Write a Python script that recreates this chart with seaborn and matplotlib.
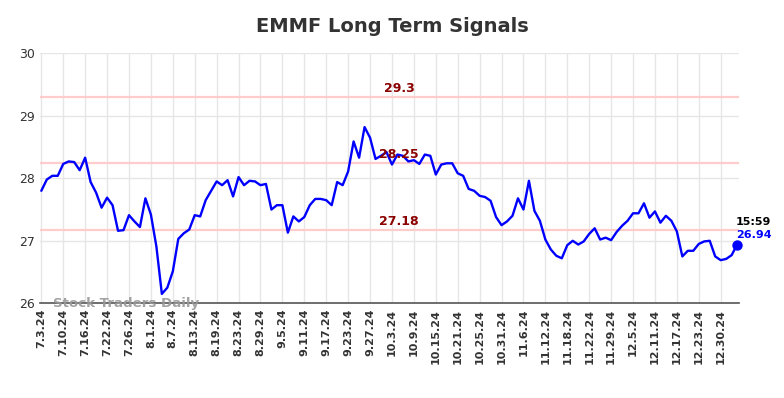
import numpy as np
import pandas as pd
import seaborn as sns
import matplotlib.pyplot as plt

# Daily close values (7.3.24 -> 1.3.25, trading days)
values = [
    27.80, 27.98, 28.04, 28.04, 28.23, 28.27, 28.26, 28.13, 28.33, 27.94,
    27.77, 27.53, 27.69, 27.57, 27.16, 27.17, 27.41, 27.31, 27.22, 27.68,
    27.42, 26.91, 26.15, 26.25, 26.51, 27.03, 27.12, 27.18, 27.41, 27.39,
    27.65, 27.80, 27.95, 27.89, 27.97, 27.71, 28.02, 27.89, 27.96, 27.95,
    27.89, 27.91, 27.50, 27.57, 27.57, 27.13, 27.39, 27.31, 27.38, 27.57,
    27.67, 27.67, 27.65, 27.57, 27.94, 27.89, 28.11, 28.59, 28.33, 28.82,
    28.65, 28.31, 28.36, 28.42, 28.22, 28.38, 28.36, 28.27, 28.29, 28.23,
    28.38, 28.36, 28.06, 28.22, 28.24, 28.24, 28.08, 28.04, 27.83, 27.80,
    27.72, 27.70, 27.64, 27.38, 27.25, 27.31, 27.40, 27.68, 27.50, 27.96,
    27.48, 27.32, 27.02, 26.86, 26.76, 26.72, 26.93, 27.00, 26.94, 26.99,
    27.11, 27.20, 27.02, 27.05, 27.01, 27.14, 27.24, 27.32, 27.44, 27.44,
    27.60, 27.37, 27.47, 27.29, 27.40, 27.32, 27.15, 26.75, 26.84, 26.84,
    26.95, 26.99, 27.00, 26.75, 26.69, 26.71, 26.77, 26.94,
]

# signal levels
levels = [29.3, 28.25, 27.18]
level_labels = ['29.3', '28.25', '27.18']

last_time = '15:59'
last_label = '26.94'

holidays = ['2024-07-04', '2024-09-02', '2024-11-28', '2024-12-25', '2025-01-01']
dates = pd.bdate_range('2024-07-03', periods=len(values), freq='C', holidays=holidays)
date_labels = [f'{d.month}.{d.day}.{d.strftime("%y")}' for d in dates]

df = pd.DataFrame({'idx': np.arange(len(values)), 'close': values})

sns.set_style('whitegrid')
fig = plt.figure(figsize=(7.84, 3.98), dpi=100)
ax = fig.add_axes([0.0504, 0.238, 0.8926, 0.628])

for lv in levels:
    ax.axhline(lv, color='#ffcccc', lw=1.6, zorder=1)

sns.lineplot(data=df, x='idx', y='close', color='#0000ff', lw=1.7, ax=ax, zorder=3)
ax.scatter([df['idx'].iloc[-1]], [df['close'].iloc[-1]], s=42, color='#0000ff',
           zorder=4, clip_on=False)

for lv, lab in zip(levels, level_labels):
    ax.annotate(lab, xy=(65.3, lv), xytext=(0, 6), textcoords='offset points',
                ha='center', va='center', fontsize=9, fontweight='bold', color='#8b0000', zorder=5)

ax.annotate(last_time, xy=(df['idx'].iloc[-1], df['close'].iloc[-1]), xytext=(-1, 16),
            textcoords='offset points', ha='left', va='center', fontsize=8,
            fontweight='bold', color='black', annotation_clip=False)
ax.annotate(last_label, xy=(df['idx'].iloc[-1], df['close'].iloc[-1]), xytext=(-1, 7),
            textcoords='offset points', ha='left', va='center', fontsize=8,
            fontweight='bold', color='#0000ff', annotation_clip=False)

ax.text(0.019, 0.0, 'Stock Traders Daily', transform=ax.transAxes, fontsize=9.6,
        fontweight='bold', color='#999999', alpha=0.9, va='center', ha='left', zorder=6)

ticks = list(range(0, len(values), 4))
ax.set_xticks(ticks)
ax.set_xticklabels([date_labels[t] for t in ticks], rotation=90, fontsize=8,
                   fontweight='bold', color='#333333')
ax.set_yticks([26, 27, 28, 29, 30])
ax.tick_params(axis='y', labelsize=9, labelcolor='#333333', length=0)
ax.tick_params(axis='x', length=0, pad=4)
ax.set_xlim(-0.33, 127.4)
ax.set_ylim(26, 30)
ax.set_xlabel('')
ax.set_ylabel('')
ax.grid(color='#e6e6e6', lw=1)

for s in ['top', 'right', 'left']:
    ax.spines[s].set_visible(False)
ax.spines['bottom'].set_color('#555555')
ax.spines['bottom'].set_linewidth(1.2)

fig.suptitle('EMMF Long Term Signals', fontsize=14, fontweight='bold', color='#333333', y=0.958)

plt.savefig('out.png', dpi=100)
